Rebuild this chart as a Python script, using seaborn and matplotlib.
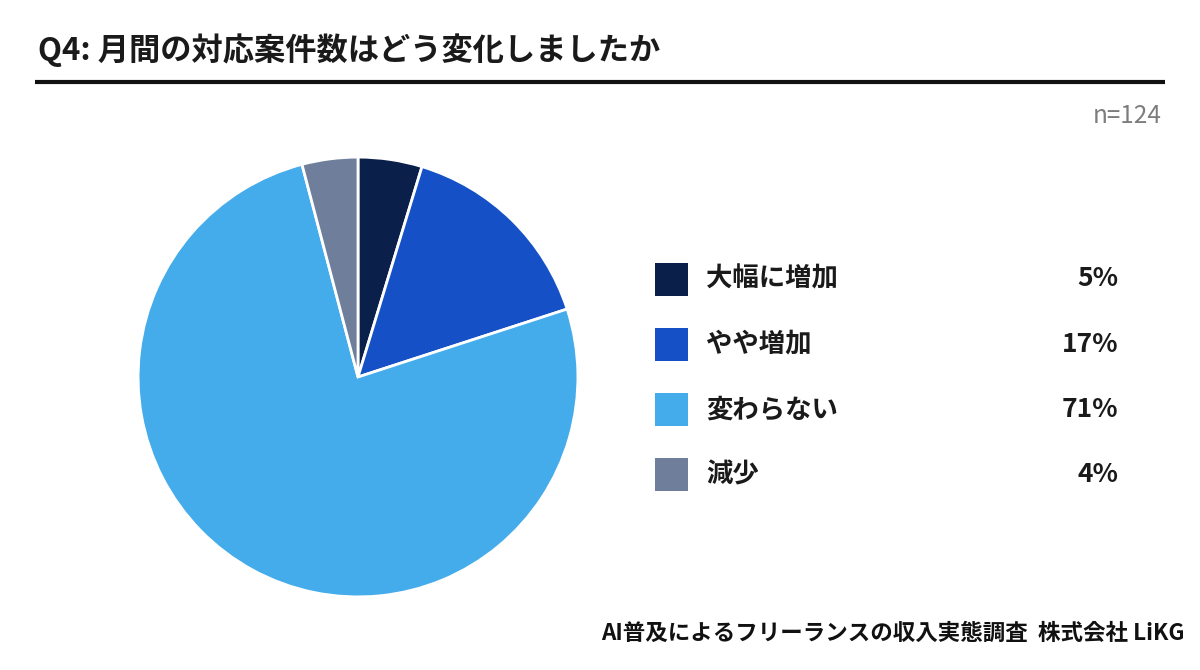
import matplotlib
matplotlib.use("Agg")
import matplotlib.pyplot as plt
from matplotlib.patches import Rectangle
import seaborn as sns

# data
categories = ["大幅に増加", "やや増加", "変わらない", "減少"]
shares = [5, 17, 71, 4]                 # printed in the legend
slice_sizes = [4.7, 15.3, 75.9, 4.1]    # wedge sizes as drawn in the picture
colors = ["#0b1f4b", "#1550c6", "#45acec", "#6f7f9b"]
title = "Q4: 月間の対応案件数はどう変化しましたか"
sample = "n=124"
source = "AI普及によるフリーランスの収入実態調査  株式会社 LiKG"

sns.set_theme(style="white")
plt.rcParams["font.family"] = ["Noto Sans CJK JP", "DejaVu Sans"]

W, H = 1200, 670
fig = plt.figure(figsize=(W / 100, H / 100), dpi=100)
fig.patch.set_facecolor("white")

# overlay in pixel coords for title / legend / footer
over = fig.add_axes([0, 0, 1, 1])
over.set_xlim(0, W)
over.set_ylim(H, 0)
over.axis("off")

over.text(38, 50, title, fontsize=22.5, fontweight="bold", color="#1a1a1a",
          va="center", ha="left")
over.plot([35, 1165], [82, 82], color="#111111", lw=3, solid_capstyle="butt")
over.text(1162, 116, sample, fontsize=17.5, color="#7d7d7d", va="center", ha="right")

# pie
cx, cy, r = 358, 377, 221
pie_ax = fig.add_axes([(cx - r) / W, 1 - (cy + r) / H, 2 * r / W, 2 * r / H])
pie_ax.pie(slice_sizes, colors=colors, startangle=90, counterclock=False, radius=1,
           wedgeprops=dict(edgecolor="white", linewidth=2))
pie_ax.set_xlim(-1.005, 1.005)
pie_ax.set_ylim(-1.005, 1.005)
pie_ax.set_aspect("equal")
pie_ax.axis("off")

# legend
y0, dy = 279, 65.3
for i, (cat, val, col) in enumerate(zip(categories, shares, colors)):
    y = y0 + i * dy
    over.add_patch(Rectangle((655, y - 16.5), 33, 33, facecolor=col, edgecolor="none"))
    over.text(706, y, cat, fontsize=19, fontweight="bold", color="#1a1a1a",
              va="center", ha="left")
    over.text(1118, y, f"{val}%", fontsize=19, fontweight="bold", color="#1a1a1a",
              va="center", ha="right")

over.text(1185, 633, source, fontsize=16.2, fontweight="bold", color="#111111",
          va="center", ha="right")

fig.savefig("out.png", dpi=100, facecolor="white")
